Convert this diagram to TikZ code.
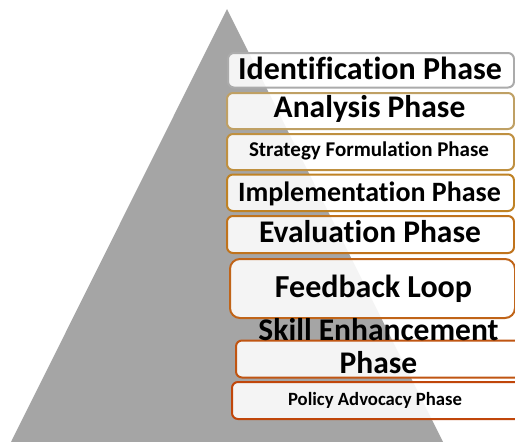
\documentclass[tikz,border=0pt]{standalone}
\usepackage{fontspec}
\setmainfont{Carlito}[RawFeature=-liga]
\begin{document}
\begin{tikzpicture}[x=1pt,y=-1pt,
  phasebox/.style={draw, line width=2pt, rounded corners=6pt, fill=white,
    fill opacity=0.88, inner sep=0pt, anchor=north west},
  label/.style={anchor=base, inner sep=0pt, text=black}]
\definecolor{pyr}{HTML}{A5A5A5}
\definecolor{c1}{HTML}{ABABAB}
\definecolor{c2}{HTML}{BFA064}
\definecolor{c3}{HTML}{BF9040}
\definecolor{c4}{HTML}{BF8224}
\definecolor{c5}{HTML}{C0731C}
\definecolor{c6}{HTML}{C06418}
\definecolor{c7}{HTML}{C05512}
\definecolor{c8}{HTML}{C0460A}
% canvas
\fill[white] (0,0) rectangle (515,442);
\useasboundingbox (0,0) rectangle (515,442);
% pyramid
\fill[pyr] (227,9) -- (11,442) -- (443,442) -- cycle;
% phase boxes
\node[phasebox, draw=c1, minimum width=286pt, minimum height=34.5pt] (b1) at (227,52) {};
\node[phasebox, draw=c2, minimum width=287pt, minimum height=36pt] (b2) at (226,92) {};
\node[phasebox, draw=c3, minimum width=287pt, minimum height=36pt] (b3) at (226,133) {};
\node[phasebox, draw=c4, minimum width=287pt, minimum height=36.5pt] (b4) at (226,173.5) {};
\node[phasebox, draw=c5, minimum width=287pt, minimum height=37pt] (b5) at (226,215) {};
\node[phasebox, draw=c6, rounded corners=10pt, minimum width=285pt, minimum height=59pt] (b6) at (229,258) {};
\node[phasebox, draw=c7, minimum width=300pt, minimum height=37pt] (b7) at (235,339.5) {};
\node[phasebox, draw=c8, minimum width=300pt, minimum height=37pt] (b8) at (231,381) {};
% phase labels
\node[label, font=\bfseries\fontsize{32}{32}\selectfont] (t1) at (370,79) {Identification Phase};
\node[label, font=\bfseries\fontsize{31.5}{32}\selectfont] (t2) at (369.5,117.5) {Analysis Phase};
\node[label, font=\bfseries\fontsize{21}{21}\selectfont] (t3) at (369,156.7) {Strategy Formulation Phase};
\node[label, font=\bfseries\fontsize{28}{28}\selectfont] (t4) at (369.5,201.5) {Implementation Phase};
\node[label, font=\bfseries\fontsize{31.5}{32}\selectfont] (t5) at (370,242.5) {Evaluation Phase};
\node[label, font=\bfseries\fontsize{32}{32}\selectfont] (t6) at (373.5,297.3) {Feedback Loop};
\node[label, font=\bfseries\fontsize{31.5}{32}\selectfont] (t7a) at (378.5,340) {Skill Enhancement};
\node[label, font=\bfseries\fontsize{31.5}{32}\selectfont] (t7b) at (378.5,373.5) {Phase};
\node[label, font=\bfseries\fontsize{18.7}{19}\selectfont] (t8) at (375,405) {Policy Advocacy Phase};
\end{tikzpicture}
\end{document}
